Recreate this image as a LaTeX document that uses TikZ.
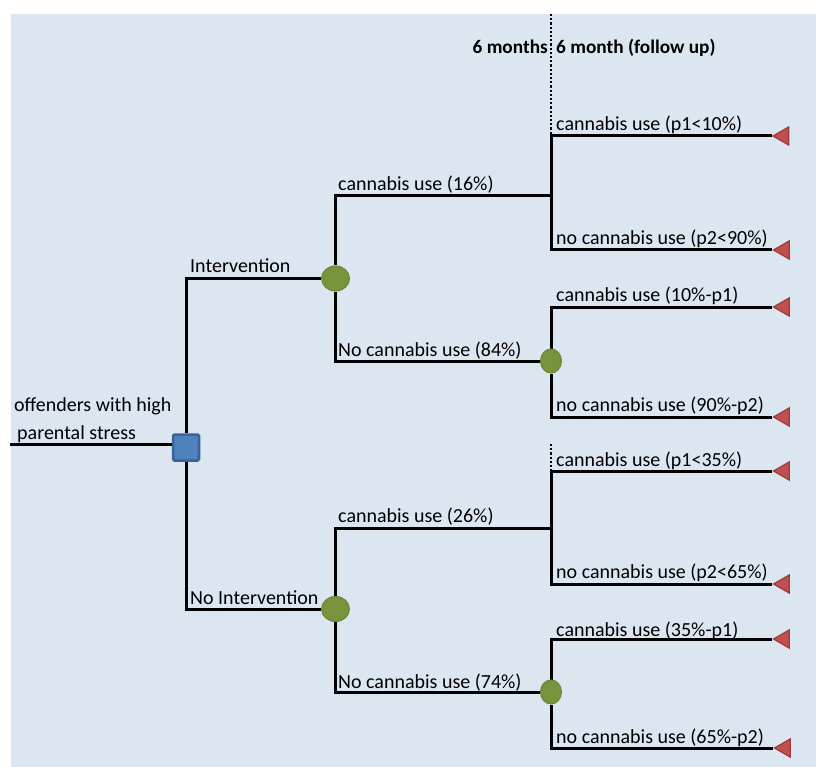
\documentclass[tikz,border=0pt]{standalone}
\usepackage{fontspec}
\setmainfont{Carlito}
\usetikzlibrary{shapes.geometric}
\pgfdeclarelayer{back}
\pgfdeclarelayer{lines}
\pgfsetlayers{back,lines,main}
\definecolor{bgc}{HTML}{DCE6F1}
\definecolor{decfill}{HTML}{4F81BD}
\definecolor{decdraw}{HTML}{3A6396}
\definecolor{chfill}{HTML}{77933C}
\definecolor{chdraw}{HTML}{6A8535}
\definecolor{trfill}{HTML}{C0504D}
\definecolor{trdraw}{HTML}{9E3A38}
\tikzset{
  decision/.style={rectangle, draw=decdraw, fill=decfill, line width=2.5pt, minimum size=26pt, inner sep=0pt, rounded corners=1.5pt},
  chance/.style={ellipse, fill=chfill, draw=chdraw, line width=1pt, inner sep=0pt},
  leaf/.style={regular polygon, regular polygon sides=3, shape border rotate=90, fill=trfill, draw=trdraw, line width=1.2pt, minimum size=21pt, inner sep=0pt},
  branch/.style={line width=3pt, black},
  lbl/.style={anchor=base west, inner sep=0pt, font=\fontsize{20}{24}\selectfont},
  hdr/.style={inner sep=0pt, font=\fontsize{19.3}{23}\selectfont\bfseries},
  guide/.style={line width=2.2pt, dotted, black}
}
\begin{document}
\begin{tikzpicture}[x=1pt,y=-1pt]
\useasboundingbox (0,0) rectangle (816,767);
\begin{pgfonlayer}{back}
\fill[bgc] (11,14) rectangle (816,767);
\end{pgfonlayer}
% nodes
\node[decision] (d) at (186,447.5) {};
\node[chance, minimum width=28pt, minimum height=25pt] (c1) at (335.5,278.5) {};
\node[chance, minimum width=21pt, minimum height=24pt] (c2) at (551,361) {};
\node[chance, minimum width=28pt, minimum height=25pt] (c3) at (335.5,609) {};
\node[chance, minimum width=21pt, minimum height=24pt] (c4) at (551,692) {};
\coordinate (root) at (10,444);
\coordinate (j1) at (551,196);
\coordinate (j2) at (551,528);
\node[leaf] (t1) at (783.5,136) {};
\node[leaf] (t2) at (784,250) {};
\node[leaf] (t3) at (784,307) {};
\node[leaf] (t4) at (784,417) {};
\node[leaf] (t5) at (784,471) {};
\node[leaf] (t6) at (784,584) {};
\node[leaf] (t7) at (784,639) {};
\node[leaf] (t8) at (785,748) {};
\coordinate (g1) at (551,14);
\coordinate (g2) at (551,134);
\coordinate (g3) at (551,444);
\coordinate (g4) at (551,470);
% connectors
\begin{pgfonlayer}{lines}
\draw[branch] (root) -- (root -| d.west);
\draw[branch] (d) |- (c1);
\draw[branch] (d) |- (c3);
\draw[branch] (c1) |- (j1);
\draw[branch] (c1) |- (c2);
\draw[branch] (c3) |- (j2);
\draw[branch] (c3) |- (c4);
\draw[branch] (j1) |- (t1);
\draw[branch] (j1) |- (t2);
\draw[branch] (c2) |- (t3);
\draw[branch] (c2) |- (t4);
\draw[branch] (j2) |- (t5);
\draw[branch] (j2) |- (t6);
\draw[branch] (c4) |- (t7);
\draw[branch] (c4) |- (t8);
\draw[guide] (g1) -- (g2);
\draw[guide] (g3) -- (g4);
\end{pgfonlayer}
% labels
\node[hdr, anchor=base east] (h1) at (548,54) {6 months};
\node[hdr, anchor=base west] (h2) at (556,54) {6 month (follow up)};
\node[lbl] (r1) at (14,411) {offenders with high};
\node[lbl] (r2) at (17,439) {parental stress};
\node[lbl] (l1) at (190,272.5) {Intervention};
\node[lbl] (l2) at (190,604.5) {No Intervention};
\node[lbl] (l3) at (338,190.5) {cannabis use (16\%)};
\node[lbl] (l4) at (338,356.5) {No cannabis use (84\%)};
\node[lbl] (l5) at (338,522.5) {cannabis use (26\%)};
\node[lbl] (l6) at (338,688.5) {No cannabis use (74\%)};
\node[lbl] (e1) at (556,130.5) {cannabis use (p1<10\%)};
\node[lbl] (e2) at (556,244.5) {no cannabis use (p2<90\%)};
\node[lbl] (e3) at (556,301.5) {cannabis use (10\%-p1)};
\node[lbl] (e4) at (556,411.5) {no cannabis use (90\%-p2)};
\node[lbl] (e5) at (556,466.5) {cannabis use (p1<35\%)};
\node[lbl] (e6) at (556,578.5) {no cannabis use (p2<65\%)};
\node[lbl] (e7) at (556,636.5) {cannabis use (35\%-p1)};
\node[lbl] (e8) at (556,743.5) {no cannabis use (65\%-p2)};
\end{tikzpicture}
\end{document}
